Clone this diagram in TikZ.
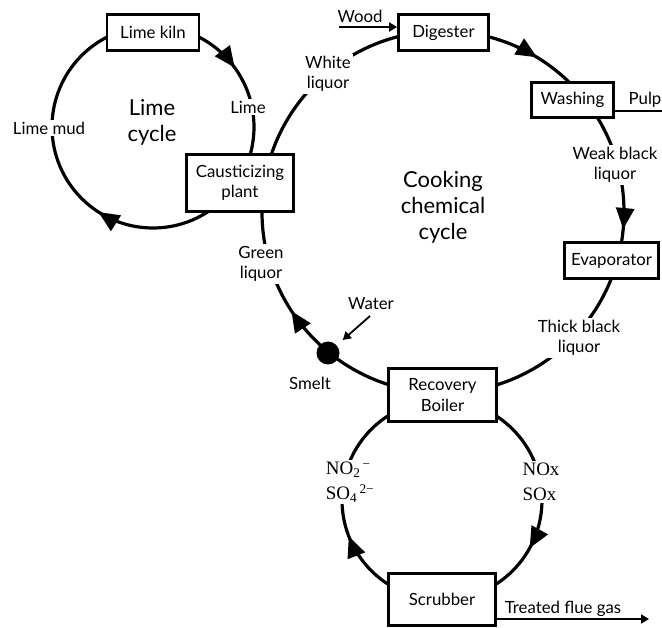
\documentclass[tikz,border=0pt]{standalone}
\usepackage{fontspec}
\setmainfont{Lato}
\newfontfamily\chemfont{Liberation Serif}
\usetikzlibrary{arrows.meta,decorations.markings}

\begin{document}
\begin{tikzpicture}[x=1pt,y=-1pt,
  flow/.style={line width=3.2pt},
  flowtip/.style={postaction={decorate,decoration={markings,
      mark=at position #1 with {\arrow{Triangle[length=21pt,width=18pt]}}}}},
  box/.style={draw,line width=2.8pt,fill=white,align=center,inner sep=0pt,
      font=\fontsize{16.8}{20.5}\selectfont},
  tag/.style={fill=white,align=center,inner sep=2pt,
      font=\fontsize{16.8}{20.5}\selectfont},
  plain/.style={align=center,inner sep=1pt,font=\fontsize{16.8}{20.5}\selectfont},
  title/.style={align=center,font=\fontsize{22}{26}\selectfont},
  chem/.style={fill=white,align=left,inner sep=2pt,
      font=\chemfont\fontsize{19}{25}\selectfont},
  feed/.style={line width=1.8pt,-{Triangle[length=8pt,width=9pt]}},
  side/.style={line width=1.8pt}
]
\useasboundingbox (0,0) rectangle (662,628);

% centres of the three cycles
\coordinate (limeC)  at (153,127);
\coordinate (cookC)  at (443,212);
\coordinate (scrubC) at (442,500);

% the cycles, flowing clockwise
\draw[flow,flowtip=0.900,flowtip=0.341] (limeC) circle[radius=101];
\draw[flow,flowtip=0.837,flowtip=0.015,flowtip=0.408] (cookC) circle[radius=181];
\draw[flow,flowtip=0.080,flowtip=0.441] (scrubC) circle[radius=100];

% process units
\node[box,minimum width=92pt,minimum height=36pt] (kiln) at (153,32.5) {Lime kiln};
\node[box,minimum width=107pt,minimum height=57pt] (caust) at (240,183) {Causticizing\\plant};
\node[box,minimum width=90pt,minimum height=36pt] (digester) at (443.5,32.5) {Digester};
\node[box,minimum width=82pt,minimum height=35pt] (washing) at (572.5,100) {Washing};
\node[box,minimum width=94pt,minimum height=36pt] (evap) at (611.5,260.5) {Evaporator};
\node[box,minimum width=108pt,minimum height=53pt] (boiler) at (442.5,395) {Recovery\\Boiler};
\node[box,minimum width=107pt,minimum height=52pt] (scrubber) at (442,599.5) {Scrubber};

\node[circle,fill,minimum size=23pt,inner sep=0pt] (smelt) at (328,353) {};

% stream labels on the cycles
\node[tag] (limelbl) at (248,107) {Lime};
\node[tag] (mudlbl) at (49,128) {Lime mud};
\node[tag] (whitelbl) at (328,74) {White\\liquor};
\node[tag] (weaklbl) at (615,165) {Weak black\\liquor};
\node[tag] (greenlbl) at (261,264) {Green\\liquor};
\node[tag] (thicklbl) at (579,338) {Thick black\\liquor};
\node[chem] (acidlbl) at (350,482) {NO\textsubscript{2}\textsuperscript{\,−}\\SO\textsubscript{4}\textsuperscript{\,2−}};
\node[chem] (gaslbl) at (541,482) {NOx\\SOx};

% cycle names
\node[title] (limecyc) at (152,122) {Lime\\cycle};
\node[title] (cookcyc) at (443,207) {Cooking\\chemical\\cycle};

% feeds and products
\coordinate (woodin) at (339,27);
\coordinate (pulpout) at (662,111);
\coordinate (waterin) at (370,316);
\coordinate (flueout) at (649,619);
\draw[feed] (woodin) -- (digester.west |- woodin);
\draw[side] (washing.east |- pulpout) -- (pulpout);
\draw[feed,shorten >=8pt] (waterin) -- (smelt);
\draw[feed] (scrubber.east |- flueout) -- (flueout);

\node[plain] (woodlbl) at (360,16) {Wood};
\node[plain] (pulplbl) at (645,100) {Pulp};
\node[plain] (waterlbl) at (371,304) {Water};
\node[plain] (smeltlbl) at (310,383) {Smelt};
\node[plain] (fluelbl) at (563,609) {Treated flue gas};
\end{tikzpicture}
\end{document}
